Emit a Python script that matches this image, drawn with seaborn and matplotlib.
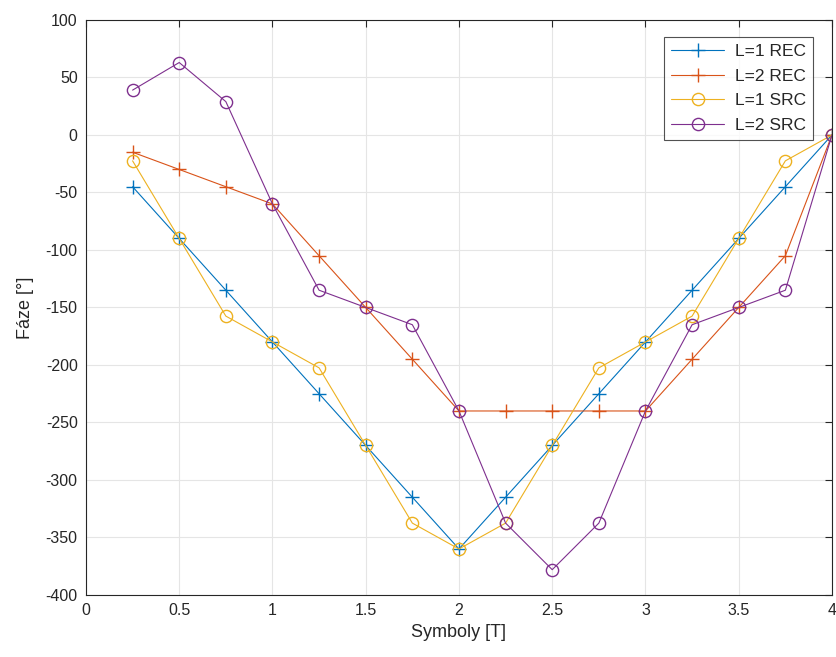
import numpy as np
import pandas as pd
import matplotlib
matplotlib.use("Agg")
import matplotlib.pyplot as plt
import seaborn as sns

# Symbol positions and phase values per configuration
symbols = [0.25, 0.5, 0.75, 1.0, 1.25, 1.5, 1.75, 2.0,
           2.25, 2.5, 2.75, 3.0, 3.25, 3.5, 3.75, 4.0]
l1_rec = [-45, -90, -135, -180, -225, -270, -315, -360,
          -315, -270, -225, -180, -135, -90, -45, 0]
l2_rec = [-15, -30, -45, -60, -105, -150, -195, -240,
          -240, -240, -240, -240, -195, -150, -105, 0]
l1_src = [-22.5, -90, -157.5, -180, -202.5, -270, -337.5, -360,
          -337.5, -270, -202.5, -180, -157.5, -90, -22.5, 0]
l2_src = [39, 63, 29, -60, -135, -150, -165, -240,
          -337.5, -378, -337.5, -240, -165, -150, -135, 0]

series_names = ["L=1 REC", "L=2 REC", "L=1 SRC", "L=2 SRC"]
series_values = [l1_rec, l2_rec, l1_src, l2_src]
colors = ["#0072BD", "#D95319", "#EDB120", "#7E2F8E"]
markers = ["+", "+", "o", "o"]

x_ticks = [0, 0.5, 1, 1.5, 2, 2.5, 3, 3.5, 4]
x_tick_labels = ["0", "0.5", "1", "1.5", "2", "2.5", "3", "3.5", "4"]
y_ticks = list(range(-400, 101, 50))

df = pd.concat(
    [pd.DataFrame({"Symboly": symbols, "Faze": vals, "serie": name})
     for name, vals in zip(series_names, series_values)],
    ignore_index=True,
)

sns.set_style("white")
plt.rcParams["font.family"] = ["Liberation Sans", "DejaVu Sans"]
plt.rcParams["axes.unicode_minus"] = False

fig = plt.figure(figsize=(8.37, 6.57), dpi=100)
ax = fig.add_axes([0.1027, 0.0944, 0.8913, 0.8752])

for name, col, mk in zip(series_names, colors, markers):
    sub = df[df["serie"] == name]
    kw = dict(marker=mk, markeredgewidth=1.0, markeredgecolor=col)
    if mk == "o":
        kw.update(markerfacecolor="none", markersize=8.8)
    else:
        kw.update(markersize=9.5)
    sns.lineplot(data=sub, x="Symboly", y="Faze", ax=ax, color=col,
                 linewidth=0.8, label=name, **kw)

ax.set_xlim(0, 4)
ax.set_ylim(-400, 100)
ax.set_xticks(x_ticks)
ax.set_xticklabels(x_tick_labels)
ax.set_yticks(y_ticks)
ax.grid(True, color="#e5e5e5", linewidth=0.8)
ax.set_axisbelow(True)
for sp in ax.spines.values():
    sp.set_color("#262626")
    sp.set_linewidth(0.8)
ax.tick_params(axis="both", direction="in", length=5, width=0.8,
               top=True, right=True, labelsize=11.5, colors="#262626",
               labelcolor="#262626", pad=6)
ax.set_xlabel("Symboly [T]", fontsize=13, color="#262626")
ax.set_ylabel("Fáze [°]", fontsize=13, color="#262626", labelpad=8)

leg = ax.legend(loc="upper right", fontsize=12.5, frameon=True, fancybox=False,
                edgecolor="#262626", borderpad=0.4, handlelength=3.1,
                handletextpad=0.6, labelspacing=0.55, borderaxespad=0.0,
                bbox_to_anchor=(0.9745, 0.9704))
leg.get_frame().set_linewidth(0.8)

fig.savefig("out.png", dpi=100)
